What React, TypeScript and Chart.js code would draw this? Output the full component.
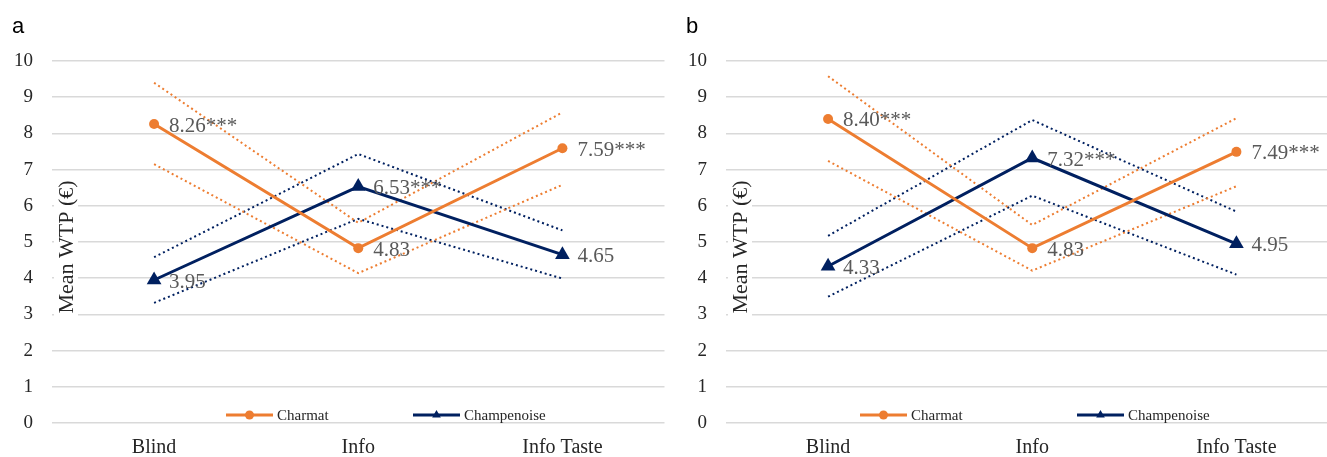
import React, { useEffect, useRef } from "react";
import { Chart, registerables } from "chart.js";

Chart.register(...registerables);

// ---------- data ----------
const categories = ["Blind", "Info", "Info Taste"];
const seriesNames = ["Charmat", "Champenoise"];
const yTitle = "Mean WTP (€)";

// panel a
const charmatA = [8.26, 4.83, 7.59];
const charmatAHi = [9.4, 5.53, 8.58];
const charmatALo = [7.15, 4.14, 6.58];
const champA = [3.95, 6.53, 4.65];
const champAHi = [4.58, 7.43, 5.32];
const champALo = [3.32, 5.64, 3.99];
const charmatALabels = ["8.26***", "4.83", "7.59***"];
const champALabels = ["3.95", "6.53***", "4.65"];

// panel b
const charmatB = [8.4, 4.83, 7.49];
const charmatBHi = [9.58, 5.47, 8.42];
const charmatBLo = [7.24, 4.21, 6.54];
const champB = [4.33, 7.32, 4.95];
const champBHi = [5.17, 8.37, 5.84];
const champBLo = [3.49, 6.28, 4.1];
const charmatBLabels = ["8.40***", "4.83", "7.49***"];
const champBLabels = ["4.33", "7.32***", "4.95"];

// ---------- styles ----------
const ORANGE = "#ED7D31";
const NAVY = "#002060";
const GRID = "#D9D9D9";
const TEXT = "#262626";
const LABEL = "#595959";
const SERIF = "'Liberation Serif', 'Times New Roman', serif";
const CANVAS_W = 673;

type Panel = {
  letter: string;
  charmat: number[];
  charmatHi: number[];
  charmatLo: number[];
  champ: number[];
  champHi: number[];
  champLo: number[];
  charmatLabels: string[];
  champLabels: string[];
  legendX: number[];
};

const panels: Panel[] = [
  {
    letter: "a",
    charmat: charmatA,
    charmatHi: charmatAHi,
    charmatLo: charmatALo,
    champ: champA,
    champHi: champAHi,
    champLo: champALo,
    charmatLabels: charmatALabels,
    champLabels: champALabels,
    legendX: [174, 361],
  },
  {
    letter: "b",
    charmat: charmatB,
    charmatHi: charmatBHi,
    charmatLo: charmatBLo,
    champ: champB,
    champHi: champBHi,
    champLo: champBLo,
    charmatLabels: charmatBLabels,
    champLabels: champBLabels,
    legendX: [134, 351],
  },
];

function drawTriangle(ctx: CanvasRenderingContext2D, x: number, y: number, r: number) {
  ctx.beginPath();
  ctx.moveTo(x, y - r);
  ctx.lineTo(x + r * 0.866, y + r * 0.5);
  ctx.lineTo(x - r * 0.866, y + r * 0.5);
  ctx.closePath();
  ctx.fill();
}

function makeConfig(p: Panel): any {
  const dotted = (data: number[], color: string) => ({
    data,
    borderColor: color,
    backgroundColor: color,
    borderWidth: 2,
    borderDash: [2, 3],
    pointRadius: 0,
    fill: false,
    tension: 0,
  });

  const decor = {
    id: "decor",
    beforeDatasetsDraw(chart: any) {
      const { ctx, chartArea } = chart;
      ctx.save();
      // y title with white background
      ctx.translate(chartArea.left + 14, 247);
      ctx.rotate(-Math.PI / 2);
      ctx.font = `22px ${SERIF}`;
      const w = ctx.measureText(yTitle).width;
      ctx.fillStyle = "#ffffff";
      ctx.fillRect(-w / 2 - 4, -12, w + 8, 24);
      ctx.fillStyle = TEXT;
      ctx.textAlign = "center";
      ctx.textBaseline = "middle";
      ctx.fillText(yTitle, 0, 1);
      ctx.restore();
    },
    afterDatasetsDraw(chart: any) {
      const { ctx, chartArea } = chart;
      ctx.save();
      // data labels
      ctx.font = `21px ${SERIF}`;
      ctx.fillStyle = LABEL;
      ctx.textAlign = "left";
      ctx.textBaseline = "middle";
      const lbls = [p.charmatLabels, p.champLabels];
      [0, 1].forEach((di) => {
        const meta = chart.getDatasetMeta(di);
        meta.data.forEach((pt: any, j: number) => {
          ctx.fillText(lbls[di][j], pt.x + 15, pt.y + 2);
        });
      });

      // legend inside plot area
      const ly = 415;
      const colors = [ORANGE, NAVY];
      seriesNames.forEach((name, i) => {
        const x0 = chartArea.left + p.legendX[i];
        ctx.strokeStyle = colors[i];
        ctx.fillStyle = colors[i];
        ctx.lineWidth = 3;
        ctx.setLineDash([]);
        ctx.beginPath();
        ctx.moveTo(x0, ly);
        ctx.lineTo(x0 + 47, ly);
        ctx.stroke();
        if (i === 0) {
          ctx.beginPath();
          ctx.arc(x0 + 23.5, ly, 4.5, 0, Math.PI * 2);
          ctx.fill();
        } else {
          drawTriangle(ctx, x0 + 23.5, ly, 5);
        }
        ctx.font = `15px ${SERIF}`;
        ctx.fillStyle = TEXT;
        ctx.textBaseline = "middle";
        ctx.fillText(name, x0 + 51, ly + 1);
      });

      // panel letter
      ctx.font = `22px 'Liberation Sans', Arial, sans-serif`;
      ctx.fillStyle = "#000000";
      ctx.textBaseline = "alphabetic";
      ctx.fillText(p.letter, 12, 33);
      ctx.restore();
    },
  };

  return {
    type: "line",
    data: {
      labels: categories,
      datasets: [
        {
          label: seriesNames[0],
          data: p.charmat,
          borderColor: ORANGE,
          backgroundColor: ORANGE,
          borderWidth: 3,
          pointStyle: "circle",
          pointRadius: 5,
          pointBorderWidth: 0,
          tension: 0,
          fill: false,
        },
        {
          label: seriesNames[1],
          data: p.champ,
          borderColor: NAVY,
          backgroundColor: NAVY,
          borderWidth: 3,
          pointStyle: "triangle",
          pointRadius: 8.5,
          pointBorderWidth: 0,
          tension: 0,
          fill: false,
        },
        dotted(p.charmatHi, ORANGE),
        dotted(p.charmatLo, ORANGE),
        dotted(p.champHi, NAVY),
        dotted(p.champLo, NAVY),
      ],
    },
    options: {
      animation: false,
      responsive: false,
      maintainAspectRatio: false,
      layout: { padding: { top: 61, left: 0, right: 1, bottom: 0 } },
      plugins: {
        legend: { display: false },
        tooltip: { enabled: false },
        title: { display: false },
      },
      scales: {
        x: {
          offset: true,
          grid: { display: false, drawTicks: false },
          border: { display: false },
          ticks: {
            font: { family: SERIF, size: 20 },
            color: TEXT,
            padding: 13,
            maxRotation: 0,
          },
          afterFit: (s: any) => {
            s.height = 34;
          },
        },
        y: {
          min: 0,
          max: 10,
          grid: { color: GRID, lineWidth: 1.5, drawTicks: false },
          border: { display: false },
          ticks: {
            stepSize: 1,
            font: { family: SERIF, size: 19 },
            color: TEXT,
            padding: 19,
          },
          afterFit: (s: any) => {
            s.width = 52;
          },
        },
      },
    },
    plugins: [decor],
  };
}

function PanelChart({ panel, left }: { panel: Panel; left: number }) {
  const ref = useRef<HTMLCanvasElement | null>(null);
  useEffect(() => {
    if (!ref.current) return;
    const chart = new Chart(ref.current, makeConfig(panel));
    return () => chart.destroy();
  }, [panel]);
  return (
    <canvas
      ref={ref}
      width={CANVAS_W}
      height={457}
      style={{ position: "absolute", left, top: 0, width: CANVAS_W, height: 457 }}
    />
  );
}

export default function App() {
  return (
    <div
      style={{
        position: "fixed",
        left: 0,
        top: 0,
        width: 1327,
        height: 457,
        overflow: "hidden",
        background: "#ffffff",
      }}
    >
      <PanelChart panel={panels[1]} left={674} />
      <PanelChart panel={panels[0]} left={0} />
    </div>
  );
}
